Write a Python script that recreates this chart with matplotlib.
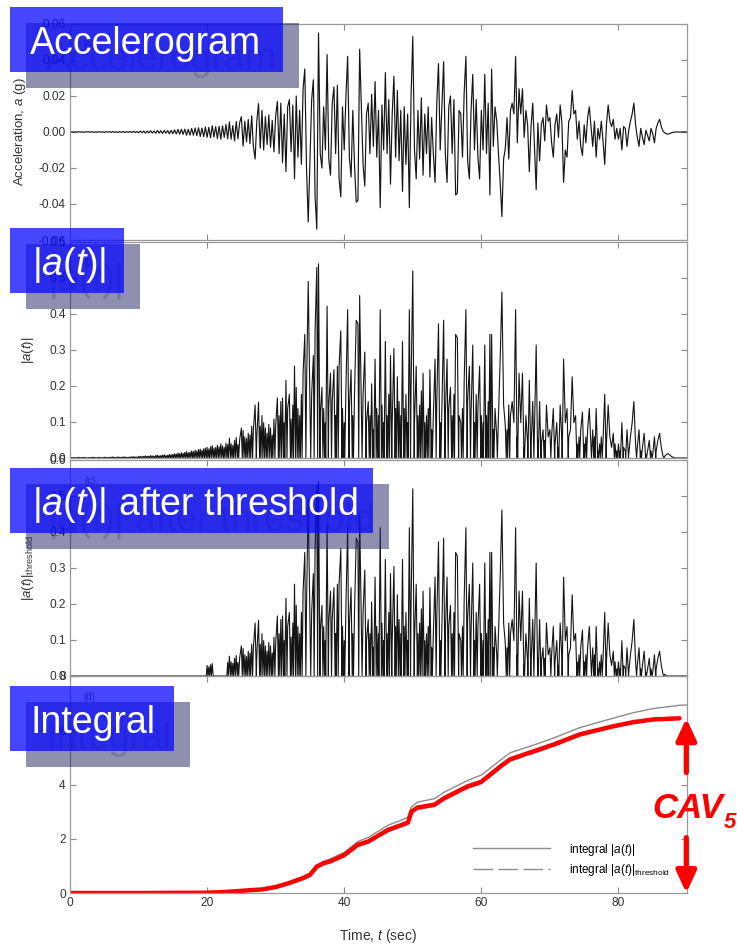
import numpy as np
import matplotlib
matplotlib.use("Agg")
import matplotlib.pyplot as plt
from matplotlib.patches import Rectangle
from matplotlib.ticker import FormatStrFormatter

plt.rcParams['font.family'] = ['Liberation Sans', 'DejaVu Sans']
plt.rcParams['axes.unicode_minus'] = False
plt.rcParams['mathtext.fontset'] = 'custom'
plt.rcParams['mathtext.rm'] = 'Liberation Sans'
plt.rcParams['mathtext.it'] = 'Liberation Sans:italic'
plt.rcParams['mathtext.bf'] = 'Liberation Sans:bold'

# accelerogram, milli-g, one row per 5 s, samples every 0.25 s
acc_mg = [
    0.0, 0.1, -0.1, 0.1, -0.1, 0.2, -0.1, 0.1, -0.2, 0.1, 0.0, 0.1, -0.1, 0.2, -0.2, 0.1, -0.1, 0.2, -0.1, 0.1,
    -0.2, 0.2, -0.1, 0.2, -0.2, 0.3, -0.2, 0.2, -0.3, 0.2, -0.2, 0.3, -0.3, 0.2, -0.2, 0.3, -0.3, 0.4, -0.3, 0.3,
    -0.4, 0.5, -0.4, 0.5, -0.6, 0.5, -0.5, 0.7, -0.6, 0.5, -0.7, 0.8, -0.6, 0.7, -0.8, 0.9, -0.7, 0.8, -1.0, 0.9,
    -1.0, 1.2, -1.1, 1.4, -1.2, 1.5, -1.3, 1.6, -1.8, 1.5, -1.7, 2.0, -1.8, 2.2, -2.0, 2.4, -2.5, 2.2, -2.6, 2.8,
    -3.0, 2.6, -3.2, 3.5, -2.8, 3.0, -3.6, 3.2, -4.0, 3.4, -3.0, 4.2, -3.8, 5.6, -4.0, 3.6, -5.0, 5.8, -3.8, 5.2,
    8.5, -7.8, 6.0, -5.5, 7.0, -6.5, 9.0, -8.0, -15.0, 6.0, 15.8, -9.0, 12.0, -10.0, 8.5, -7.0, 9.5, -8.5, 6.5, -11.0,
    9.0, 17.0, -12.0, 16.0, -17.0, 10.0, -22.0, 14.0, 18.0, -11.0, 15.0, -26.0, 20.0, -14.0, 12.0, -18.0, 24.0, 35.0, -20.0, -50.0,
    -15.0, 18.0, 29.0, -36.0, -54.0, 55.0, -12.0, -20.0, 14.0, -10.0, 43.0, -15.0, -24.0, 16.0, 25.0, -12.0, 26.0, -26.0, -36.0, 14.0,
    -10.0, 20.0, 42.0, -14.0, -25.0, 12.0, -18.0, -39.0, -38.0, 46.0, 14.0, -18.0, -30.0, 10.0, 16.0, -12.0, 21.0, -8.0, 28.0, -14.0,
    12.0, -42.0, 15.0, -10.0, 33.0, -12.0, 18.0, -29.0, 10.0, 31.0, -14.0, 23.0, -16.0, 12.0, -33.0, 14.0, -18.0, 10.0, -42.0, 20.0,
    53.0, -10.0, -26.0, 12.0, -15.0, 19.0, -24.0, 10.0, -12.0, 14.0, -25.0, 8.0, -12.0, -28.0, 16.0, 38.0, -10.0, 14.0, 39.0, -12.0,
    -28.0, 14.0, 20.0, -12.0, 18.0, -35.0, -34.0, 12.0, 10.0, -14.0, 22.0, 42.0, -16.0, -26.0, 12.0, 32.0, -10.0, 18.0, -14.0, -26.0,
    12.0, -10.0, 32.0, -12.0, 16.0, -35.0, 35.0, -8.0, 14.0, 6.0, -12.0, -28.0, -47.0, -15.0, -9.0, 8.0, -15.0, 12.0, 16.0, 10.0,
    42.0, -6.0, 24.0, 10.0, 24.0, -3.0, 12.0, 4.0, -22.0, 3.0, 16.0, -8.0, -32.0, 5.0, -16.0, 4.0, 8.0, -5.0, 15.0, 6.0,
    8.0, -6.0, -14.0, 4.0, 10.0, -3.0, 15.0, 5.0, -28.0, -10.0, -14.0, 6.0, 8.0, 23.0, 10.0, 12.0, -4.0, 6.0, -8.0, -13.0,
    4.0, -6.0, 8.0, 14.0, 3.0, -8.0, 6.0, -14.0, 2.0, -4.0, 6.0, -5.0, -18.0, 4.0, 15.0, 6.0, 3.0, 7.0, -4.0, 2.0,
    -4.0, 2.0, -10.0, 3.0, 2.0, -8.0, 1.0, 6.0, 10.0, 16.0, 4.0, -3.0, -8.0, 2.0, -3.0, -7.0, 1.0, -2.0, -5.0, 2.0,
    -1.0, -6.0, 2.0, 5.0, 7.0, 3.0, 0.5, -0.5, -1.0, -1.2, -0.8, -0.4, -0.2, 0.0, 0.0, 0.0, 0.0, 0.0, 0.0, 0.0,
    0.0,
]
dt = 0.25
G = 9.81  # g -> m/s^2 for |a(t)|

# 1-second windows that pass the threshold
kept_windows = [20, 23, 24] + list(range(25, 87))

# cumulative integrals
cav_t = [0, 10, 20, 22, 24, 26, 28, 30, 32, 34, 35, 36, 37, 38, 40, 42, 43.5, 46.4, 48.3, 49.3,
         49.8, 50.7, 53.2, 54.6, 58, 60, 62.8, 64.2, 67.6, 70.6, 74.4, 79.3, 82.2, 85.1, 88.9]
cav_thr = [0, 0, 0.01, 0.03, 0.06, 0.1, 0.13, 0.22, 0.37, 0.55, 0.67, 0.97, 1.1, 1.17, 1.4, 1.78, 1.9, 2.33, 2.5, 2.6,
           3.0, 3.15, 3.26, 3.5, 3.93, 4.1, 4.67, 4.93, 5.22, 5.48, 5.85, 6.15, 6.3, 6.4, 6.44]
cav_thr_dash = [0, 0, 0.01, 0.02, 0.04, 0.07, 0.1, 0.18, 0.32, 0.5, 0.62, 0.92, 1.05, 1.12, 1.34, 1.72, 1.84, 2.26, 2.43, 2.53,
                2.93, 3.08, 3.19, 3.43, 3.86, 4.03, 4.6, 4.86, 5.15, 5.41, 5.79, 6.1, 6.25, 6.36, 6.42]
cav_all_t = cav_t + [90]
cav_all = [0, 0, 0.02, 0.04, 0.07, 0.11, 0.15, 0.25, 0.41, 0.61, 0.73, 1.03, 1.17, 1.26, 1.5, 1.9, 2.05, 2.5, 2.68, 2.8,
           3.18, 3.35, 3.48, 3.72, 4.15, 4.35, 4.9, 5.17, 5.45, 5.72, 6.1, 6.45, 6.65, 6.8, 6.92, 6.93]

acc = np.array(acc_mg) / 1000.0
t = np.arange(len(acc)) * dt

# |a(t)| of the drawn line: add the zero crossings between samples
tt, aa = [t[0]], [acc[0]]
for i in range(1, len(t)):
    if acc[i - 1] * acc[i] < 0:
        tc = t[i - 1] + dt * acc[i - 1] / (acc[i - 1] - acc[i])
        tt.append(tc)
        aa.append(0.0)
    tt.append(t[i])
    aa.append(acc[i])
tt = np.array(tt)
abs_a = np.abs(np.array(aa)) * G
keep = np.isin(np.floor(tt).astype(int), kept_windows)
abs_thr = np.where(keep, abs_a, 0.0)

W, H = 737, 944
fig = plt.figure(figsize=(W / 100, H / 100), dpi=100)


def px_axes(x0, y0, x1, y1):
    return fig.add_axes([x0 / W, 1 - y1 / H, (x1 - x0) / W, (y1 - y0) / H])


ax1 = px_axes(70, 24, 687, 240)
ax2 = px_axes(70, 242, 687, 458)
ax3 = px_axes(70, 460, 687, 676)
ax4 = px_axes(70, 676, 687, 893)

line_c = '#151515'
ax1.plot(t, acc, color=line_c, lw=0.85)
ax2.plot(tt, abs_a, color=line_c, lw=0.8)
ax3.plot(tt, abs_thr, color=line_c, lw=0.8)

ax4.plot(cav_all_t, cav_all, color='#8c8c8c', lw=1.0, label='integral |$a$($t$)|')
ax4.plot(cav_t, cav_thr_dash, color='#8c8c8c', lw=1.0, ls=(0, (14, 4)),
         label='integral |$a$($t$)|$_{\\mathrm{threshold}}$')
ax4.plot(cav_t, cav_thr, color='red', lw=3.2, solid_capstyle='round')

ax1.set_ylim(-0.06, 0.06)
ax1.set_yticks([-0.06, -0.04, -0.02, 0.0, 0.02, 0.04, 0.06])
ax1.yaxis.set_major_formatter(FormatStrFormatter('%.2f'))
for ax in (ax2, ax3):
    ax.set_ylim(0, 0.6)
    ax.set_yticks([0, 0.1, 0.2, 0.3, 0.4, 0.5, 0.6])
    ax.yaxis.set_major_formatter(FormatStrFormatter('%.1f'))
ax4.set_ylim(0, 8)
ax4.set_yticks([0, 2, 4, 6, 8])

for ax in (ax1, ax2, ax3, ax4):
    ax.set_xlim(0, 90)
    ax.set_xticks([0, 20, 40, 60, 80])
    ax.tick_params(direction='in', top=True, right=True, length=4, width=0.8,
                   color='#8a8a8a', labelsize=8.6, labelcolor='#333333', pad=3)
    for s in ax.spines.values():
        s.set_color('#9a9a9a')
        s.set_linewidth(0.9)
    ax.patch.set_alpha(0)
for ax in (ax1, ax2, ax3):
    ax.tick_params(labelbottom=False)

lab = dict(fontsize=9.5, color='#333333')
ax1.set_ylabel('Acceleration, $a$ (g)', **lab)
ax1.yaxis.set_label_coords(-0.068, 0.5)
ax2.set_ylabel('|$a$($t$)|', **lab)
ax2.yaxis.set_label_coords(-0.055, 0.5)
ax3.set_ylabel('|$a$($t$)|$_{\\mathrm{threshold}}$', **lab)
ax3.yaxis.set_label_coords(-0.055, 0.5)
ax4.set_xlabel('Time, $t$ (sec)', fontsize=10, color='#333333')
ax4.xaxis.set_label_coords(0.5, -0.155)

for ax, letter in zip((ax1, ax2, ax3, ax4), ['(a)', '(b)', '(c)', '(d)']):
    ax.text(0.032, 0.89, letter, transform=ax.transAxes, fontsize=7, color='#555555', ha='center')

ax4.legend(loc='center left', bbox_to_anchor=(0.653, 0.154), frameon=False, fontsize=8.5,
           handlelength=6.5, handletextpad=1.6, labelspacing=0.35, borderpad=0, borderaxespad=0)

# CAV5 arrows
xa = 89.9
arrow = dict(arrowstyle='-|>,head_length=1.3,head_width=0.6', color='red', lw=3.8, shrinkA=0, shrinkB=0)
ax4.annotate('', xy=(xa, cav_thr[-1]), xytext=(xa, 4.44), arrowprops=arrow, annotation_clip=False)
ax4.annotate('', xy=(xa, 0), xytext=(xa, 2.04), arrowprops=arrow, annotation_clip=False)
fig.text(723 / W, 1 - 818 / H, 'CAV', ha='right', va='baseline', fontsize=25,
         fontweight='bold', fontstyle='italic', color='red')
fig.text(724 / W, 1 - 828 / H, '5', ha='left', va='baseline', fontsize=16,
         fontweight='bold', fontstyle='italic', color='red')


# slide captions: shadow box + translucent blue box
def caption(x0, y0, x1, y1, text, tx, base):
    fig.add_artist(Rectangle(((x0 + 16) / W, 1 - (y1 + 16) / H), (x1 - x0) / W, (y1 - y0) / H,
                             transform=fig.transFigure, facecolor=(0.125, 0.125, 0.385),
                             edgecolor='none', alpha=0.5, zorder=5))
    fig.text((tx + 16) / W, 1 - (base + 16) / H, text, fontsize=27, color=(0.3, 0.3, 0.5),
             alpha=0.35, va='baseline', zorder=6)
    fig.add_artist(Rectangle((x0 / W, 1 - y1 / H), (x1 - x0) / W, (y1 - y0) / H,
                             transform=fig.transFigure, facecolor=(0.03, 0.03, 1.0),
                             edgecolor='none', alpha=0.75, zorder=7))
    fig.text(tx / W, 1 - base / H, text, fontsize=27, color='white', va='baseline', zorder=8)


caption(10, 7, 283, 72, 'Accelerogram', 30, 54)
caption(10, 228, 124, 293, '|$a$($t$)|', 32, 275)
caption(10, 468, 373, 533, '|$a$($t$)| after threshold', 32, 515)
caption(10, 686, 174, 751, 'Integral', 31, 733)

fig.savefig('out.png', dpi=100, facecolor='white')
